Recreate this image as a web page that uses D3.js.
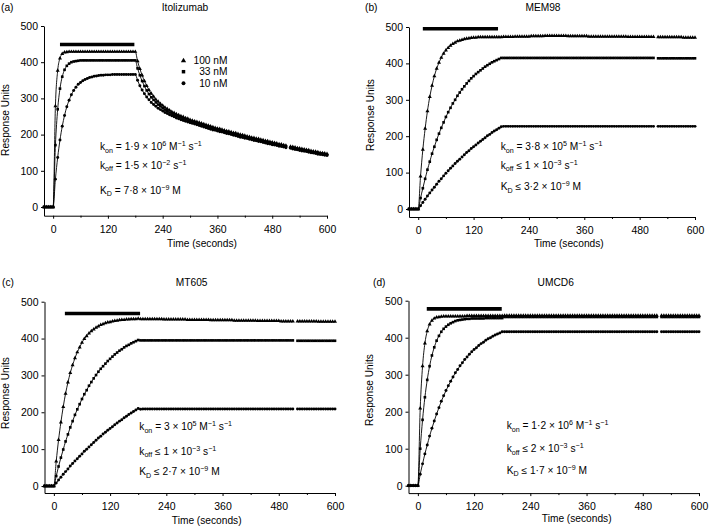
<!DOCTYPE html>
<html><head><meta charset="utf-8">
<script src="https://cdn.jsdelivr.net/npm/d3@7"></script>
<style>
body{margin:0;background:#fff}
svg{display:block}
text{font-family:Arial,"Liberation Sans",sans-serif;fill:#000;white-space:pre}
</style>
</head><body>
<svg id="chart" width="709" height="526"></svg>
<script>
// ---------- DATA ----------
const times = d3.range(-20, 601, 5);          // seconds, one reading every 5 s
const seriesLabels = ["100 nM", "33 nM", "10 nM"];
const panelTitles = ["Itolizumab", "MEM98", "MT605", "UMCD6"];
const panelTags = ["(a)", "(b)", "(c)", "(d)"];
const xTicks = [0, 120, 240, 360, 480, 600];
const xMinorTicks = [60, 180, 300, 420, 540];
const yTicks = [0, 100, 200, 300, 400, 500];
// injection bar: start (s), end (s), level (RU)
const injection = [[15, 178, 449], [10, 173, 495], [23.5, 184, 468], [19, 179, 478]];

// (a) Itolizumab
const itolizumab100 = [0,0,0,0,
0,279,377,411,423,427,428,
429,429,429,429,429,429,429,429,429,429,
429,429,429,429,429,429,429,429,429,429,
429,429,429,429,429,429,429,429,429,429,
403,382,364,348,335,323,313,305,297,291,
285,280,275,271,267,263,260,257,254,251,
249,246,244,241,239,237,235,233,231,229,
227,225,223,221,219,217,216,214,212,210,
209,207,205,204,202,200,199,197,195,194,
192,191,189,188,186,185,183,182,180,179,
177,176,174,173,171,170,null,167,166,165,
163,162,161,159,158,157,155,154,153,152,
150,149,148,147];
const itolizumab33 = [0,0,0,0,
0,171,270,327,360,379,390,396,400,402,403,404,
405,405,405,405,405,405,405,405,405,405,
405,405,405,405,405,405,405,405,405,405,
405,405,405,405,405,
383,364,348,334,322,312,303,296,289,283,
278,273,269,265,261,258,255,252,249,247,
244,242,239,237,235,233,231,229,227,225,
223,221,219,217,215,214,212,210,208,207,
205,203,202,200,198,197,195,194,192,190,
189,187,186,184,183,181,180,178,177,176,
174,173,171,170,168,167,null,164,163,162,
160,159,158,157,155,154,153,151,150,149,
148,147,145,144];
const itolizumab10 = [0,0,0,0,
0,77,137,185,223,253,277,295,310,322,331,339,344,349,352,355,358,359,361,362,363,364,364,365,
365,365,366,366,366,366,366,366,366,366,366,366,366,
350,335,323,313,304,296,289,283,278,273,
269,265,261,258,255,252,249,246,244,241,
239,237,235,233,231,229,227,225,223,221,
219,217,215,213,212,210,208,207,205,203,
202,200,198,197,195,193,192,190,189,187,
186,184,183,181,180,178,177,175,174,172,
171,170,168,167,166,164,null,162,160,159,
158,156,155,154,153,151,150,149,148,146,
145,144,143,142];

// (b) MEM98
const mem98_100 = [0,0,0,0,
0,90,163,221,269,308,339,365,386,402,
416,427,436,443,449,454,457,461,463,465,
467,468,469,470,471,471,472,
472,472,472,472,472,472,472,472,472,472,
473,473,473,473,473,474,474,474,474,474,
474,474,475,475,475,475,475,475,476,476,
476,476,476,476,476,476,476,476,475,475,
475,475,475,475,475,475,475,474,474,474,
474,474,474,474,474,474,474,474,474,474,
474,474,474,474,473,473,473,473,473,473,
473,473,473,473,473,473,null,472,472,472,
472,472,472,472,472,472,472,472,471,471,
471,471,471,471];
const mem98_33 = [0,0,0,0,
0,30,57,83,108,130,152,171,190,207,
223,238,253,266,278,290,300,311,320,329,
337,345,352,359,365,371,376,381,386,391,
395,399,403,406,409,412,415,
415,415,415,415,415,415,415,415,415,415,
415,415,415,415,415,415,415,415,415,415,
415,415,415,415,415,415,415,415,415,415,
415,415,415,415,415,415,415,415,415,415,
415,415,415,415,415,415,415,415,415,415,
415,415,415,415,415,415,415,415,415,415,
415,415,415,415,415,415,null,414,414,414,
414,414,414,414,414,414,414,414,414,414,
414,414,414,414];
const mem98_10 = [0,0,0,0,
0,9,18,27,36,44,52,60,68,76,
83,91,98,105,112,118,125,131,137,143,
149,155,160,166,171,176,181,186,191,196,
201,205,210,214,218,222,226,
227,227,227,227,227,227,227,227,227,227,
227,227,227,227,227,227,227,227,227,227,
227,227,227,227,227,227,227,227,227,227,
227,227,227,227,227,227,227,227,227,227,
227,227,227,227,227,227,227,227,227,227,
227,227,227,227,227,227,227,227,227,227,
227,227,227,227,227,227,null,227,227,227,
227,227,227,227,227,227,227,227,227,227,
227,227,227,227];

// (c) MT605
const mt605_100 = [0,0,0,0,
0,67,125,173,215,251,281,307,328,347,
363,376,389,399,407,414,420,425,430,433,
437,439,442,444,445,447,448,449,450,451,
451,452,452,453,453,453,454,
453,453,453,453,453,453,453,453,453,453,
452,452,452,452,452,452,452,452,452,452,
451,451,451,451,451,451,451,451,451,451,
450,450,450,450,450,450,450,450,450,450,
449,449,449,449,449,449,449,449,449,449,
448,448,448,448,448,448,448,448,448,448,
447,447,447,447,447,447,null,447,447,447,
447,447,447,447,447,447,446,446,446,446,
446,446,446,446];
const mt605_33 = [0,0,0,0,
0,27,53,77,99,121,140,159,176,193,
208,222,236,249,260,272,282,292,301,310,
318,325,332,339,345,351,357,362,367,371,
376,380,383,387,390,393,396,
395,395,395,395,395,395,395,395,395,395,
395,395,395,395,395,395,395,395,395,395,
395,395,395,395,395,395,395,395,395,395,
395,395,395,395,395,395,395,395,395,395,
395,395,395,395,395,395,395,395,395,395,
395,395,395,395,395,395,395,395,395,395,
395,395,395,395,395,395,null,394,394,394,
394,394,394,394,394,394,394,394,394,394,
394,394,394,394];
const mt605_10 = [0,0,0,0,
0,8,16,24,32,39,46,54,61,68,
74,81,87,94,100,106,112,118,124,130,
135,141,146,151,156,161,166,171,176,180,
185,189,194,198,202,206,210,
208,209,209,209,209,209,209,209,209,209,
209,209,209,209,209,209,209,209,209,209,
209,209,209,209,209,209,209,209,209,209,
209,209,209,209,209,209,209,209,209,209,
209,209,209,209,209,209,209,209,209,209,
209,209,209,209,209,209,209,209,209,209,
209,209,209,209,209,209,null,209,209,209,
209,209,209,209,209,209,209,209,209,209,
209,209,209,209];

// (d) UMCD6
const umcd6_100 = [0,0,0,0,
0,209,323,385,418,436,446,452,455,456,457,458,
458,458,458,458,458,458,458,458,458,
459,459,459,459,459,459,459,459,459,459,459,459,459,459,459,459,
460,460,460,460,460,460,460,460,460,460,
460,460,460,460,460,460,460,460,460,460,
460,460,460,460,460,460,460,460,460,460,
460,460,460,460,460,460,460,460,460,460,
460,460,460,460,460,460,460,460,460,460,
460,460,460,460,460,460,460,460,460,460,
460,460,460,460,460,460,null,460,460,460,
460,460,460,460,460,460,460,460,460,460,
460,460,460,460];
const umcd6_33 = [0,0,0,0,
0,100,178,239,286,323,352,374,392,405,
416,424,430,435,439,442,445,447,448,449,
450,451,451,452,
452,452,452,452,452,453,453,453,453,453,453,453,453,
456,456,456,456,456,456,456,456,456,456,
456,456,456,456,456,456,456,456,456,456,
456,456,456,456,456,456,456,456,456,456,
456,456,456,456,456,456,456,456,456,456,
456,456,456,456,456,456,456,456,456,456,
456,456,456,456,456,456,456,456,456,456,
456,456,456,456,456,456,null,456,456,456,
456,456,456,456,456,456,456,456,456,456,
456,456,456,456];
const umcd6_10 = [0,0,0,0,
0,31,59,86,110,134,155,175,194,211,
228,243,257,270,282,294,305,314,324,332,
341,348,355,362,368,373,379,384,388,393,
397,400,404,407,410,413,416,
416,416,416,416,416,416,416,416,416,416,
416,416,416,416,416,416,416,416,416,416,
416,416,416,416,416,416,416,416,416,416,
416,416,416,416,416,416,416,416,416,416,
416,416,416,416,416,416,416,416,416,416,
416,416,416,416,416,416,416,416,416,416,
416,416,416,416,416,416,null,416,416,416,
416,416,416,416,416,416,416,416,416,416,
416,416,416,416];

// rate constants text (segments: text, kind)
const ratesA = [
  [["k",""],["on","sub"],[" = 1·9 × 10",""],["6","sup"],[" M",""],["−1","sup"],[" s",""],["−1","sup"]],
  [["k",""],["off","sub"],[" = 1·5 × 10",""],["−2","sup"],[" s",""],["−1","sup"]],
  [["K",""],["D","sub"],[" = 7·8 × 10",""],["−9","sup"],[" M",""]]];
const ratesB = [
  [["k",""],["on","sub"],[" = 3·8 × 10",""],["5","sup"],[" M",""],["−1","sup"],[" s",""],["−1","sup"]],
  [["k",""],["off","sub"],[" ≤ 1 × 10",""],["−3","sup"],[" s",""],["−1","sup"]],
  [["K",""],["D","sub"],[" ≤ 3·2 × 10",""],["−9","sup"],[" M",""]]];
const ratesC = [
  [["k",""],["on","sub"],[" = 3 × 10",""],["5","sup"],[" M",""],["−1","sup"],[" s",""],["−1","sup"]],
  [["k",""],["off","sub"],[" ≤ 1 × 10",""],["−3","sup"],[" s",""],["−1","sup"]],
  [["K",""],["D","sub"],[" ≤ 2·7 × 10",""],["−9","sup"],[" M",""]]];
const ratesD = [
  [["k",""],["on","sub"],[" = 1·2 × 10",""],["6","sup"],[" M",""],["−1","sup"],[" s",""],["−1","sup"]],
  [["k",""],["off","sub"],[" ≤ 2 × 10",""],["−3","sup"],[" s",""],["−1","sup"]],
  [["K",""],["D","sub"],[" ≤ 1·7 × 10",""],["−9","sup"],[" M",""]]];

// ---------- LAYOUT ----------
const panels = [
  {series:[itolizumab100, itolizumab33, itolizumab10], rates:ratesA,
   xr:[44,327], y0:207, y500:26, yb:-24, title:[185,11], tag:[1,11], xlab:[202,247], ylab:[5.5,120],
   ann:[100,[150,168.5,193.5]], legend:true},
  {series:[mem98_100, mem98_33, mem98_10], rates:ratesB,
   xr:[409,695], y0:209, y500:27, yb:-22, title:[543,11], tag:[365,11], xlab:[568.8,247], ylab:[370.8,115],
   ann:[500.7,[150,168.5,190]]},
  {series:[mt605_100, mt605_33, mt605_10], rates:ratesC,
   xr:[44.5,335], y0:486, y500:301.7, yb:-19, title:[191.7,285.5], tag:[2,285.5], xlab:[206.7,523.5], ylab:[5.5,393],
   ann:[139.3,[430,454.5,475]]},
  {series:[umcd6_100, umcd6_33, umcd6_10], rates:ratesD,
   xr:[408.5,699], y0:485.7, y500:300.7, yb:-20, title:[555.7,285.5], tag:[373,285.5], xlab:[576.7,522], ylab:[369.2,390],
   ann:[506.7,[429,452,473.5]]}
];
const symbols = [d3.symbol().type(d3.symbolTriangle).size(7),
                 d3.symbol().type(d3.symbolSquare).size(7),
                 d3.symbol().type(d3.symbolCircle).size(7)];

const svg = d3.select("#chart");

function rich(g, x, y, segs, fs) {
  const t = g.append("text").attr("x", x).attr("y", y).attr("font-size", fs);
  let cur = 0;
  segs.forEach(([s, k]) => {
    const target = k === "sub" ? 2.8 : k === "sup" ? -4 : 0;
    t.append("tspan").attr("dy", target - cur).attr("font-size", k ? fs * 0.7 : fs).text(s);
    cur = target;
  });
}

panels.forEach((p, pi) => {
  const g = svg.append("g");
  const x = d3.scaleLinear().domain([-20, 600]).range(p.xr);
  const y = d3.scaleLinear().domain([0, 500]).range([p.y0, p.y500]);
  const yAxisScale = d3.scaleLinear().domain([p.yb, 500]).range([y(p.yb), y(500)]);
  const axisY = y(p.yb);

  // axes
  const ya = g.append("g").attr("transform", `translate(${p.xr[0]},0)`)
    .call(d3.axisLeft(yAxisScale).tickValues(yTicks).tickSize(3).tickSizeOuter(0).tickPadding(3));
  const xa = g.append("g").attr("transform", `translate(0,${axisY})`)
    .call(d3.axisBottom(x).tickValues(xTicks).tickSize(3).tickSizeOuter(0).tickPadding(6.5));
  g.append("g").attr("transform", `translate(0,${axisY})`)
    .call(d3.axisBottom(x).tickValues(xMinorTicks).tickSize(2).tickFormat(""))
    .select(".domain").remove();
  g.selectAll(".tick text").attr("font-size", 10.5).attr("font-family", "Arial, 'Liberation Sans', sans-serif");
  g.selectAll(".domain, .tick line").attr("stroke", "#000").attr("stroke-width", 1);

  // injection bar
  const inj = injection[pi];
  g.append("line").attr("x1", x(inj[0])).attr("x2", x(inj[1]))
    .attr("y1", y(inj[2])).attr("y2", y(inj[2]))
    .attr("stroke", "#000").attr("stroke-width", 3.6);

  // series
  p.series.forEach((arr, si) => {
    const data = times.map((t, i) => ({t, v: arr[i]}));
    const line = d3.line().defined(d => d.v != null)
      .x(d => x(d.t)).y(d => y(d.v)).curve(d3.curveMonotoneX);
    g.append("g").selectAll("path").data(data.filter(d => d.v != null)).join("path")
      .attr("d", symbols[si])
      .attr("transform", d => `translate(${x(d.t)},${y(d.v)})`)
      .attr("fill", "#000");
    g.append("path").datum(data).attr("d", line)
      .attr("fill", "none").attr("stroke", "#000").attr("stroke-width", 0.9);
  });

  // texts
  g.append("text").attr("x", p.title[0]).attr("y", p.title[1]).attr("text-anchor", "middle")
    .attr("font-size", 10.2).text(panelTitles[pi]);
  g.append("text").attr("x", p.tag[0]).attr("y", p.tag[1]).attr("font-size", 10.2).text(panelTags[pi]);
  g.append("text").attr("x", p.xlab[0]).attr("y", p.xlab[1]).attr("text-anchor", "middle")
    .attr("font-size", 10.2).text("Time (seconds)");
  g.append("text").attr("transform", `translate(${p.ylab[0]},${p.ylab[1]}) rotate(-90)`)
    .attr("text-anchor", "middle").attr("dy", "0.35em").attr("font-size", 10.2).text("Response Units");

  p.rates.forEach((segs, li) => rich(g, p.ann[0], p.ann[1][li], segs, 10.2));

  if (p.legend) {
    const ly = [60.7, 71.7, 83.3];
    seriesLabels.forEach((lab, si) => {
      g.append("path").attr("d", d3.symbol().type([d3.symbolTriangle, d3.symbolSquare, d3.symbolCircle][si]).size(12)())
        .attr("transform", `translate(183.5,${ly[si]})`).attr("fill", "#000");
      g.append("text").attr("x", 227.5).attr("y", ly[si] + 3.7).attr("text-anchor", "end")
        .attr("font-size", 10.2).text(lab);
    });
  }
});
</script>
</body></html>
